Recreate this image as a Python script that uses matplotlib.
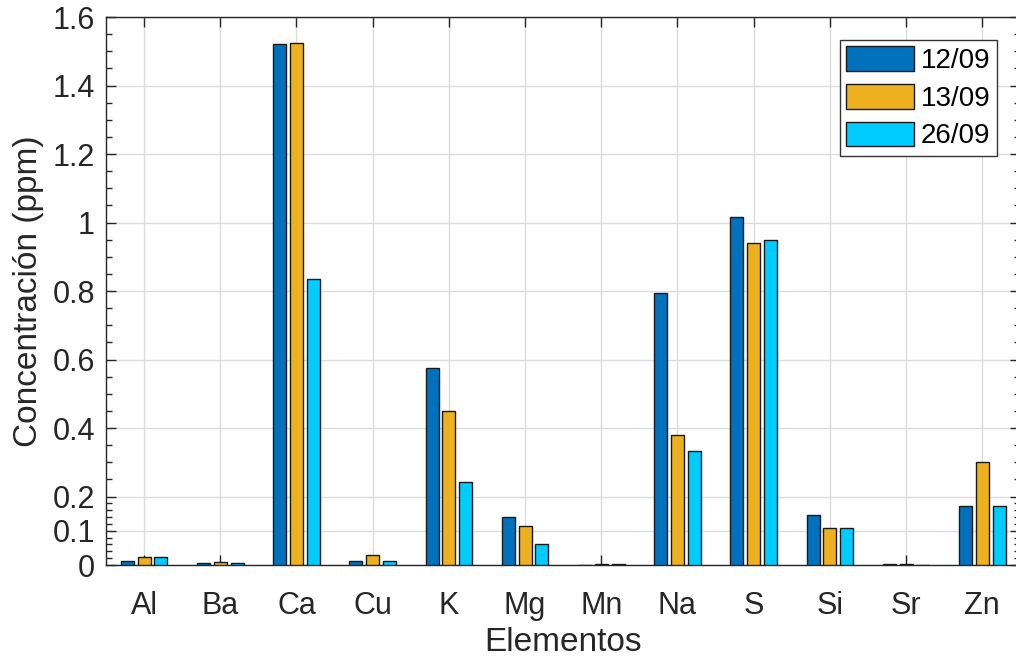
import numpy as np
import matplotlib.pyplot as plt
from matplotlib.ticker import FixedLocator

plt.rcParams['font.family'] = ['Liberation Sans', 'DejaVu Sans']

# Data
elementos = ['Al', 'Ba', 'Ca', 'Cu', 'K', 'Mg', 'Mn', 'Na', 'S', 'Si', 'Sr', 'Zn']
fechas = ['12/09', '13/09', '26/09']
c_1209 = [0.012, 0.005, 1.521, 0.012, 0.575, 0.140, 0.000, 0.794, 1.017, 0.147, 0.003, 0.172]
c_1309 = [0.022, 0.008, 1.524, 0.029, 0.450, 0.115, 0.003, 0.380, 0.941, 0.108, 0.003, 0.302]
c_2609 = [0.022, 0.005, 0.835, 0.012, 0.241, 0.060, 0.003, 0.333, 0.949, 0.108, 0.000, 0.172]
yticks = [0, 0.1, 0.2, 0.4, 0.6, 0.8, 1, 1.2, 1.4, 1.6]
ytick_labels = ['0', '0.1', '0.2', '0.4', '0.6', '0.8', '1', '1.2', '1.4', '1.6']

colores = ['#0072BD', '#EDB120', '#00CCFF']
txt = '#262626'

fig = plt.figure(figsize=(10.16, 6.61), dpi=100)
ax = fig.add_axes([0.1043, 0.1452, 0.90, 0.8290])

x = np.arange(1, len(elementos) + 1)
paso = 0.22
ancho = 0.17
for i, (serie, col, lab) in enumerate(zip([c_1209, c_1309, c_2609], colores, fechas)):
    ax.bar(x + (i - 1) * paso, serie, width=ancho, color=col, edgecolor='#1a1a1a',
           linewidth=1.0, label=lab, zorder=3)

ax.set_xlim(0.5, 12.5)
ax.set_ylim(0, 1.6)
ax.set_xticks(x)
ax.set_xticklabels(elementos)
ax.set_yticks(yticks)
ax.set_yticklabels(ytick_labels)
# minor ticks: 0.02 steps below 0.2, 0.05 steps above
menores = [0.02, 0.04, 0.06, 0.08, 0.12, 0.14, 0.16, 0.18]
menores += [round(0.25 + 0.1 * k, 2) for k in range(14)]
menores += [round(0.3 + 0.2 * k, 2) for k in range(7)]
ax.yaxis.set_minor_locator(FixedLocator(sorted(menores)))

ax.grid(True, which='major', color='#dcdcdc', linewidth=1.0, zorder=0)
ax.tick_params(which='both', direction='in', top=True, right=True, colors=txt,
               labelsize=22, width=1.0)
ax.tick_params(which='major', length=7)
ax.tick_params(which='minor', length=4)
ax.tick_params(axis='x', pad=19)
ax.tick_params(axis='y', pad=8)
for s in ax.spines.values():
    s.set_color(txt)
    s.set_linewidth(1.0)

ax.set_xlabel('Elementos', fontsize=24, color=txt, labelpad=4)
ax.set_ylabel('Concentración (ppm)', fontsize=24, color=txt, labelpad=6)

leg = ax.legend(loc='upper right', bbox_to_anchor=(0.9744, 0.958), fontsize=20,
                handlelength=2.44, handleheight=1.0, handletextpad=0.25,
                labelspacing=0.35, borderpad=0.22, borderaxespad=0,
                fancybox=False, framealpha=1, edgecolor='#333333')
leg.get_frame().set_linewidth(1.0)

fig.savefig('out.png', dpi=100)
